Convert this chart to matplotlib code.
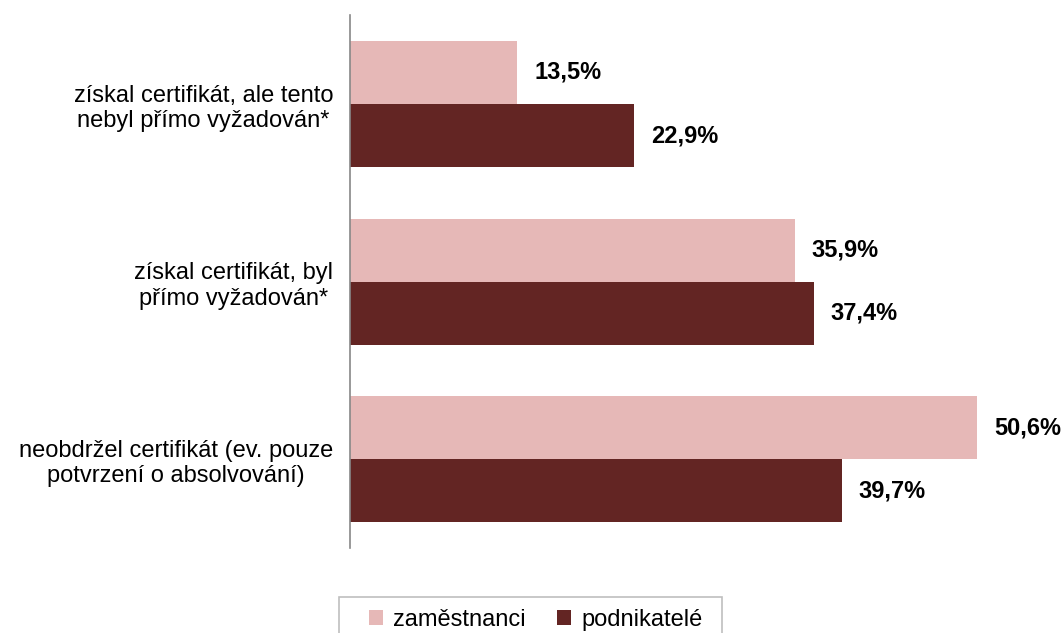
import matplotlib.pyplot as plt
from matplotlib.patches import Rectangle
import numpy as np

plt.rcParams['font.family'] = ['Liberation Sans', 'DejaVu Sans']

# ---------- data ----------
categories = [
    "neobdržel certifikát (ev. pouze\npotvrzení o absolvování)",
    "získal certifikát, byl\npřímo vyžadován*",
    "získal certifikát, ale tento\nnebyl přímo vyžadován*",
]
zamestnanci = [50.6, 35.9, 13.5]
podnikatele = [39.7, 37.4, 22.9]
series_names = ["zaměstnanci", "podnikatelé"]

light = "#E6B8B7"
dark = "#632523"

fig = plt.figure(figsize=(10.64, 6.33), dpi=100)
ax = fig.add_axes([0.329, 0.134, 0.671, 0.842])

y = np.arange(len(categories))
h = 0.355
b1 = ax.barh(y + h / 2, zamestnanci, height=h, color=light, label=series_names[0])
b2 = ax.barh(y - h / 2, podnikatele, height=h, color=dark, label=series_names[1])

for bars, vals in ((b1, zamestnanci), (b2, podnikatele)):
    for bar, v in zip(bars, vals):
        ax.text(v + 1.35, bar.get_y() + bar.get_height() / 2,
                f"{v:.1f}%".replace(".", ","),
                va="center", ha="left", fontsize=17, fontweight="bold")

ax.set_xlim(0, 57.6)
ax.set_ylim(-0.5, 2.5)
ax.set_yticks(y)
ax.set_yticklabels(categories, fontsize=17, multialignment="center",
                   linespacing=1.2)
ax.tick_params(axis="y", length=0, pad=12)
ax.set_xticks([])
for s in ("top", "right", "bottom"):
    ax.spines[s].set_visible(False)
ax.spines["left"].set_color("#888888")
ax.spines["left"].set_linewidth(1.2)

# legend without its own frame, box drawn separately (reference box runs off the bottom)
leg = fig.legend(loc="center", bbox_to_anchor=(0.5035, 0.021), ncol=2,
                 fontsize=17, frameon=False, handlelength=0.6,
                 handleheight=0.6, columnspacing=1.3, handletextpad=0.45,
                 borderpad=0, borderaxespad=0)
fig.patches.append(Rectangle((0.3186, -0.01), 0.36, 0.0669,
                             transform=fig.transFigure, fill=False,
                             edgecolor="#BFBFBF", linewidth=1.2))

fig.savefig("out.png", dpi=100)
